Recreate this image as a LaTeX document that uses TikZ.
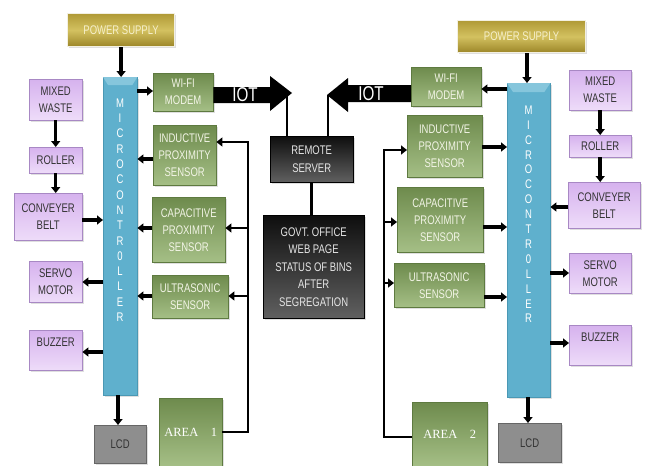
\documentclass[tikz,border=0pt]{standalone}
\usepackage{fontspec}
\setmainfont{Liberation Serif}
\newfontfamily\boxfont{Liberation Sans}[FakeStretch=0.76]
\usetikzlibrary{arrows.meta,shadows}
\definecolor{grnT}{HTML}{6E8B4D}
\definecolor{grnB}{HTML}{A5BF86}
\definecolor{grnD}{HTML}{5E7A40}
\definecolor{grnTxt}{HTML}{F2F4E6}
\definecolor{purT}{HTML}{D6B2EE}
\definecolor{purB}{HTML}{EEDCF9}
\definecolor{purD}{HTML}{A888C4}
\definecolor{purTxt}{HTML}{333333}
\definecolor{goldT}{HTML}{B09A36}
\definecolor{goldM}{HTML}{D3C160}
\definecolor{goldB}{HTML}{9C8628}
\definecolor{goldTxt}{HTML}{F6F0CC}
\definecolor{mcuC}{HTML}{5FB0CD}
\definecolor{mcuD}{HTML}{4A98B4}
\definecolor{mcuL}{HTML}{86C6DC}
\definecolor{lcdC}{HTML}{8E8E8E}
\definecolor{lcdD}{HTML}{666666}
\definecolor{darkT}{HTML}{0E0E0E}
\definecolor{darkB}{HTML}{606060}
\tikzset{
  x=1pt, y=-1pt,
  box/.style={anchor=north west, inner sep=0pt, align=center,
    font=\boxfont\fontsize{12.5}{17}\selectfont},
  shad/.style={drop shadow={opacity=0.25, shadow xshift=1.5pt, shadow yshift=-1.5pt}},
  grn/.style={box, shad, top color=grnT, bottom color=grnB, draw=grnD, text=grnTxt},
  pur/.style={box, shad, top color=purT, bottom color=purB, draw=purD, text=purTxt},
  gold/.style={box, shad, top color=goldT, bottom color=goldB, middle color=goldM, draw=white!85!goldT, line width=1.2pt, text=goldTxt},
  mcu/.style={box, shad, fill=mcuC, draw=mcuD},
  lcd/.style={box, shad, fill=lcdC, draw=lcdD, text=black!80},
  dark/.style={box, shad, top color=darkT, bottom color=darkB, draw=black, text=white!90!black,
    font=\boxfont\fontsize{12.5}{17.5}\selectfont},
  area/.style={box, shad, top color=grnT, bottom color=grnB, draw=grnD, text=white,
    font=\fontsize{12.5}{14}\selectfont},
  mculetter/.style={text=white, font=\boxfont\fontsize{12.5}{12.5}\selectfont, inner sep=0pt},
  iot/.style={text=white, font=\boxfont\fontsize{20}{20}\selectfont, inner sep=0pt},
  arr/.style={line width=3.5pt, -{Triangle[length=6pt,width=9pt]}},
  ln/.style={line width=2.5pt, line join=miter},
  brarr/.style={line width=2.5pt, line join=miter, -{Triangle[length=6pt,width=9pt]}},
}
\newcommand\bx[7]{\node[#1, minimum width=#5pt, minimum height=#6pt] (#2) at (#3,#4) {#7};}
\begin{document}
\begin{tikzpicture}
\useasboundingbox (0,0) rectangle (654,466);
% ---------------- left side ----------------
\bx{gold}{ps1}{67}{13}{107}{33}{POWER SUPPLY}
\bx{mcu}{mcu1}{103}{77}{34}{318}{}
\bx{grn}{wifi1}{153}{73}{60}{38}{WI-FI\\MODEM}
\bx{grn}{ind1}{153}{125}{63}{60}{INDUCTIVE\\PROXIMITY\\SENSOR}
\bx{grn}{cap1}{152}{197}{73}{65}{CAPACITIVE\\PROXIMITY\\SENSOR}
\bx{grn}{ult1}{152}{275}{76}{43}{ULTRASONIC\\SENSOR}
\bx{area}{area1}{159}{398}{63}{68}{AREA\hspace{1em}1}
\bx{pur}{mw1}{29}{79}{53}{41}{MIXED\\WASTE}
\bx{pur}{rol1}{29}{147}{53}{26}{ROLLER}
\bx{pur}{cb1}{14}{193}{68}{47}{CONVEYER\\BELT}
\bx{pur}{sm1}{29}{261}{53}{41}{SERVO\\MOTOR}
\bx{pur}{bz1}{29}{330}{53}{40}{BUZZER\\\mbox{}}
\bx{lcd}{lcd1}{94}{425}{52}{38}{LCD}
% ---------------- right side ----------------
\bx{gold}{ps2}{457}{20}{128}{32}{POWER SUPPLY}
\bx{mcu}{mcu2}{507}{83}{43}{314}{}
\bx{grn}{wifi2}{411}{67}{70}{39}{WI-FI\\MODEM}
\bx{grn}{ind2}{407}{115}{75}{62}{INDUCTIVE\\PROXIMITY\\SENSOR}
\bx{grn}{cap2}{397}{187}{86}{65}{CAPACITIVE\\PROXIMITY\\SENSOR}
\bx{grn}{ult2}{394}{263}{90}{44}{ULTRASONIC\\SENSOR}
\bx{area}{area2}{412}{402}{75}{64}{AREA\hspace{1em}2}
\bx{pur}{mw2}{569}{70}{62}{40}{MIXED\\WASTE}
\bx{pur}{rol2}{569}{135}{62}{22}{ROLLER}
\bx{pur}{cb2}{568}{182}{72}{46}{CONVEYER\\BELT}
\bx{pur}{sm2}{569}{253}{62}{40}{SERVO\\MOTOR}
\bx{pur}{bz2}{569}{325}{62}{40}{BUZZER\\\mbox{}}
\bx{lcd}{lcd2}{498}{423}{63}{39}{LCD}
% ---------------- centre ----------------
\bx{dark}{rs}{270}{136}{83}{46}{REMOTE\\SERVER}
\bx{dark}{gov}{263}{215}{101}{103}{GOVT. OFFICE\\WEB PAGE\\STATUS OF BINS\\AFTER\\SEGREGATION}
% bevel on microcontrollers
\fill[mcuL] (mcu1.north west) -- (mcu1.north east) -- ([xshift=-5pt,yshift=-8pt]mcu1.north east) -- ([xshift=5pt,yshift=-8pt]mcu1.north west) -- cycle;
\fill[mcuL] (mcu2.north west) -- (mcu2.north east) -- ([xshift=-6pt,yshift=-9pt]mcu2.north east) -- ([xshift=6pt,yshift=-9pt]mcu2.north west) -- cycle;
% microcontroller letters
\foreach \l [count=\i from 0] in {M,I,C,R,O,C,O,N,T,R,0,L,L,E,R} {
  \node[mculetter] (mlA\i) at (120, 103+15.3*\i) {\l};
  \node[mculetter] (mlB\i) at (528.5, 110+14.9*\i) {\l};
}
% ---------------- left arrows ----------------
\draw[arr] (ps1.south) -- (ps1.south |- mcu1.north);
\draw[arr] (mcu1.east |- 0,91) -- (wifi1.west |- 0,91);
\draw[arr] (ind1.west |- 0,159) -- (mcu1.east |- 0,159);
\draw[arr] (cap1.west |- 0,228) -- (mcu1.east |- 0,228);
\draw[arr] (ult1.west |- 0,296) -- (mcu1.east |- 0,296);
\draw[arr] (mw1.south) -- (rol1.north);
\draw[arr] (rol1.south) -- (rol1.south |- cb1.north);
\draw[arr] (cb1.east |- 0,220) -- (mcu1.west |- 0,220);
\draw[arr] (mcu1.west |- 0,282) -- (sm1.east |- 0,282);
\draw[arr] (mcu1.west |- 0,352) -- (bz1.east |- 0,352);
\draw[arr] (mcu1.south -| 118,0) -- (lcd1.north -| 118,0);
\draw[brarr] (area1.east |- 0,432) -- (248,432) -- (248,142) -- (ind1.east |- 0,142);
\draw[brarr] (248,228) -- (cap1.east |- 0,228);
\draw[brarr] (248,296) -- (ult1.east |- 0,296);
% ---------------- right arrows ----------------
\draw[arr] (ps2.south -| 527,0) -- (mcu2.north -| 527,0);
\draw[arr] (mcu2.west |- 0,89) -- (wifi2.east |- 0,89);
\draw[arr] (ind2.east |- 0,147) -- (mcu2.west |- 0,147);
\draw[arr] (cap2.east |- 0,227) -- (mcu2.west |- 0,227);
\draw[arr] (ult2.east |- 0,297) -- (mcu2.west |- 0,297);
\draw[arr] (mw2.south) -- (rol2.north);
\draw[arr] (rol2.south) -- (rol2.south |- cb2.north);
\draw[arr] (cb2.west |- 0,207) -- (mcu2.east |- 0,207);
\draw[arr] (mcu2.east |- 0,273) -- (sm2.west |- 0,273);
\draw[arr] (mcu2.east |- 0,343) -- (bz2.west |- 0,343);
\draw[arr] (mcu2.south -| 528,0) -- (lcd2.north -| 528,0);
\draw[brarr] (area2.west |- 0,437) -- (384,437) -- (384,150) -- (ind2.west |- 0,150);
\draw[brarr] (384,222) -- (cap2.west |- 0,222);
\draw[brarr] (384,283) -- (ult2.west |- 0,283);
% ---------------- IOT arrows and server links ----------------
\fill[black] (wifi1.east |- 0,87) -- (270,87) -- (270,76) -- (292,93) -- (270,111) -- (270,103) -- (wifi1.east |- 0,103) -- cycle;
\node[iot] (iotL) at (245,95) {IOT};
\draw[ln] (287,92) -- (rs.north -| 287,0);
\fill[black] (wifi2.west |- 0,85) -- (348,85) -- (348,78) -- (327,95) -- (348,112) -- (348,102) -- (wifi2.west |- 0,102) -- cycle;
\node[iot] (iotR) at (371,94) {IOT};
\draw[ln] (328,95) -- (rs.north -| 328,0);
\draw[ln] (rs.south) -- (gov.north -| rs.south);
\end{tikzpicture}
\end{document}
